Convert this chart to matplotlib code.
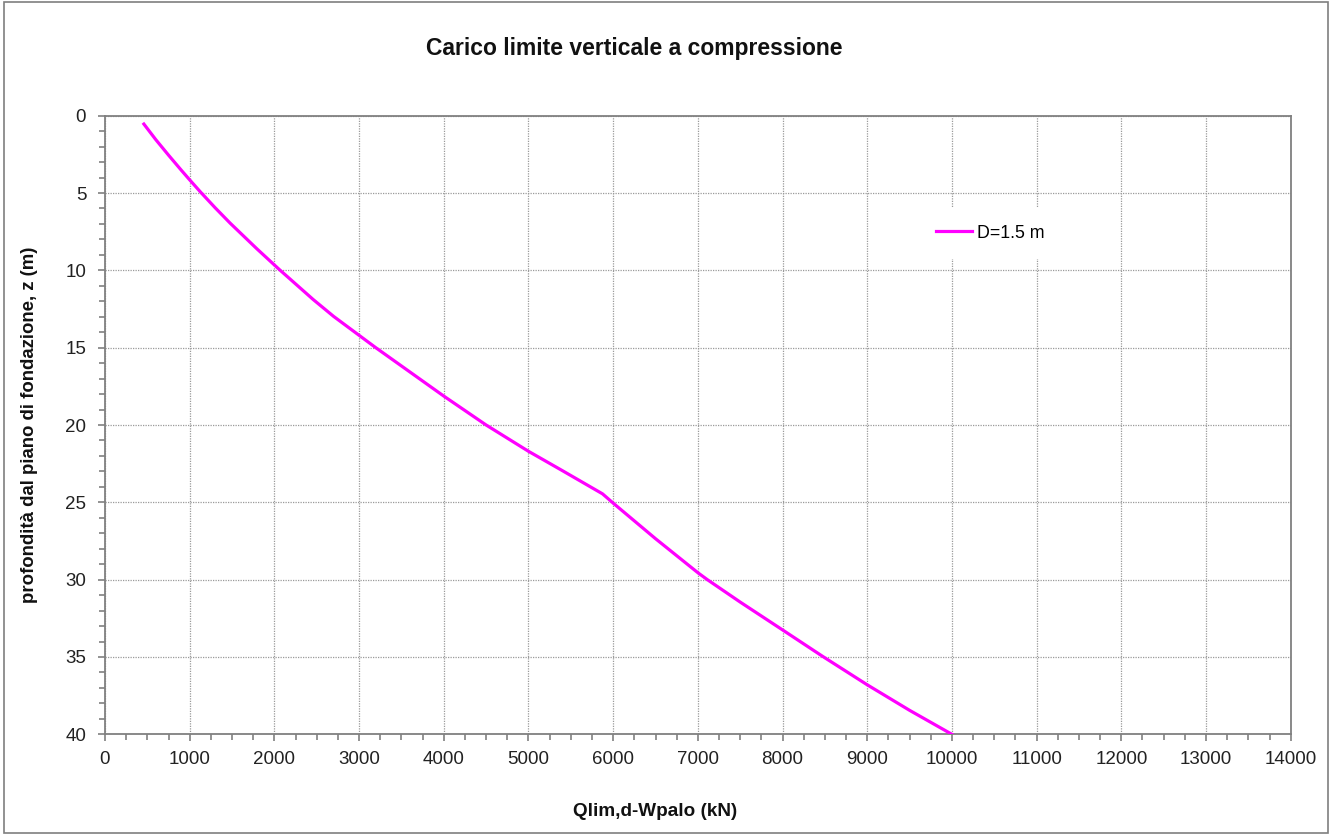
import matplotlib
matplotlib.use("Agg")
import matplotlib.pyplot as plt
from matplotlib.ticker import MultipleLocator
from matplotlib.patches import Rectangle

plt.rcParams['font.family'] = ['Liberation Sans', 'DejaVu Sans']

# Data
q_kN = [459, 600, 750, 900, 1000, 1130, 1300, 1478, 1792, 2059, 2459, 2700,
        3000, 3197, 4000, 4500, 5000, 5400, 5874, 6000, 6500, 7000, 7112,
        7500, 8000, 8476, 9000, 9500, 10000]
z_m = [0.54, 1.55, 2.55, 3.52, 4.15, 4.95, 5.95, 6.95, 8.6, 9.95, 11.89, 12.98,
       14.2, 15.0, 18.13, 20.0, 21.7, 22.95, 24.45, 25.05, 27.35, 29.55, 30.0,
       31.45, 33.25, 34.97, 36.8, 38.45, 40.0]
series_label = "D=1.5 m"
title = "Carico limite verticale a compressione"
xlabel = "Qlim,d-Wpalo (kN)"
ylabel = "profondità dal piano di fondazione, z (m)"

W, H = 1333, 834
fig = plt.figure(figsize=(W / 100, H / 100), dpi=100)
fig.patches.append(Rectangle((4 / W, 1 - 833 / H), (1328 - 4) / W, (833 - 2) / H,
                             transform=fig.transFigure, fill=False,
                             edgecolor='#7f7f7f', linewidth=1.2))

ax = fig.add_axes([105 / W, 1 - 734.3 / H, (1290.7 - 105) / W, (734.3 - 115.7) / H])
ax.plot(q_kN, z_m, color='#FF00FF', linewidth=2.3, label=series_label, zorder=3,
        solid_joinstyle='round')

ax.set_xlim(0, 14000)
ax.set_ylim(40, 0)
ax.xaxis.set_major_locator(MultipleLocator(1000))
ax.xaxis.set_minor_locator(MultipleLocator(250))
ax.yaxis.set_major_locator(MultipleLocator(5))
ax.yaxis.set_minor_locator(MultipleLocator(1))
ax.grid(True, which='major', color='#9a9a9a', linestyle=(0, (1, 1)), linewidth=0.9)

for s in ax.spines.values():
    s.set_color('#808080')
    s.set_linewidth(1.3)
ax.tick_params(which='both', direction='out', color='#808080', width=1.2,
               labelsize=13.5, labelcolor='#222222')
ax.tick_params(which='major', length=5)
ax.tick_params(which='minor', length=4)
ax.tick_params(axis='y', which='major', pad=8.5)
ax.tick_params(axis='x', which='major', pad=7)

leg = ax.legend(loc='upper left', bbox_to_anchor=(909 / W, 1 - 198 / H),
                bbox_transform=fig.transFigure, frameon=True, fontsize=12.8,
                handlelength=2.05, handletextpad=0.28, borderpad=1.0)
leg.get_frame().set_edgecolor('none')
leg.get_frame().set_facecolor('white')
leg.get_frame().set_alpha(1)

fig.text(634 / W, 1 - 48 / H, title, ha='center', va='center',
         fontsize=16.5, fontweight='bold', color='#111111')
fig.text(655 / W, 1 - 811 / H, xlabel, ha='center', va='center',
         fontsize=13.6, fontweight='bold', color='#111111')
fig.text(30 / W, 1 - 425 / H, ylabel, ha='center', va='center', rotation=90,
         fontsize=13.4, fontweight='bold', color='#111111')

fig.savefig("out.png", dpi=100)
